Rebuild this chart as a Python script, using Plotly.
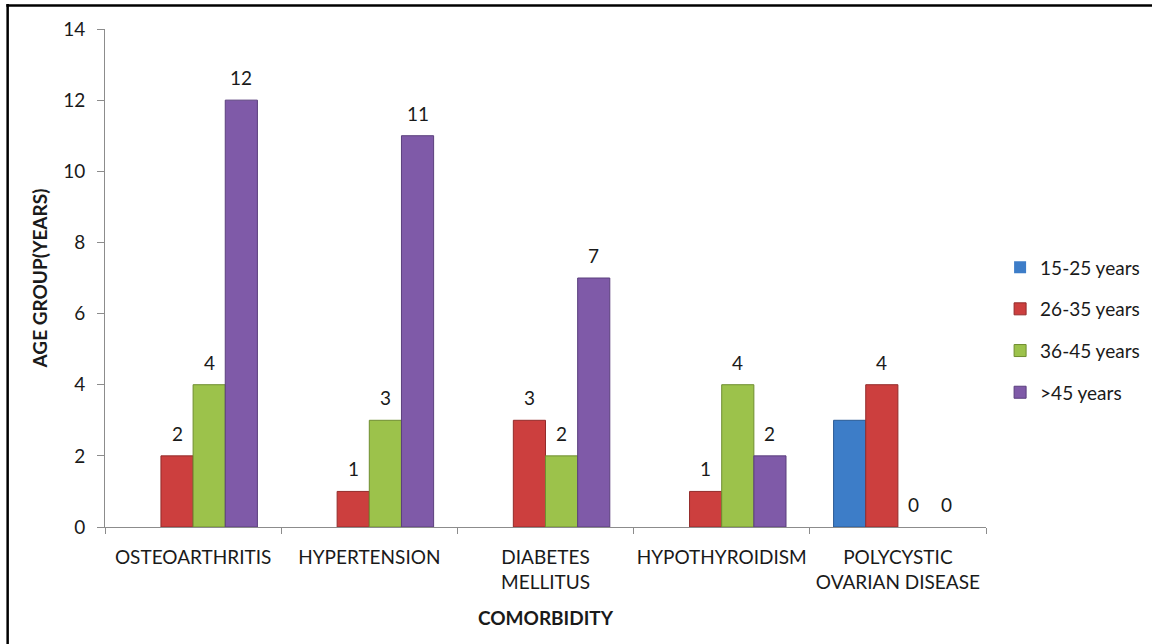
import plotly.graph_objects as go

# Comorbidity counts by age group
categories = ["OSTEOARTHRITIS", "HYPERTENSION", "DIABETES<br>MELLITUS",
              "HYPOTHYROIDISM", "POLYCYSTIC<br>OVARIAN DISEASE"]
age_groups = ["15-25 years", "26-35 years", "36-45 years", ">45 years"]
vals_15_25 = [None, None, None, None, 3]
vals_26_35 = [2, 1, 3, 1, 4]
vals_36_45 = [4, 3, 2, 4, 0]
vals_over_45 = [12, 11, 7, 2, 0]
y_ticks = [0, 2, 4, 6, 8, 10, 12, 14]

series = [vals_15_25, vals_26_35, vals_36_45, vals_over_45]
fill_colors = ["#3D7DC8", "#CC3F3E", "#9CC24B", "#7F5AA8"]
edge_colors = ["#2A5A94", "#932B2A", "#6F8E30", "#5A3F7D"]
show_labels = [False, True, True, True]

FONT = "Lato, 'Open Sans', sans-serif"
TEXT = "#1a1a1a"
FS = 19

fig = go.Figure()
for name, vals, fc, ec in zip(age_groups, series, fill_colors, edge_colors):
    # no outline on empty bars so nothing is drawn along the baseline
    widths = [1 if v else 0 for v in vals]
    fig.add_trace(go.Bar(
        x=categories, y=vals, name=name, legendgroup=name,
        marker=dict(color=fc, line=dict(color=ec, width=widths)),
    ))

# value labels above each bar (the 15-25 series is unlabelled)
bar_px = 881 / 5 * (1 - 0.27) / 4
for i, (vals, show) in enumerate(zip(series, show_labels)):
    if not show:
        continue
    for cat, v in zip(categories, vals):
        if v is None:
            continue
        fig.add_annotation(
            x=cat, y=v, text=str(v), showarrow=False,
            xshift=(i - 1.5) * bar_px, yanchor="bottom", yshift=9,
            font=dict(family=FONT, size=FS, color=TEXT),
        )

# outer frame of the chart
fig.add_shape(type="line", xref="paper", yref="paper",
              x0=-0.112, x1=1.25, y0=1.0472, y1=1.0472,
              line=dict(color="black", width=2.5))
fig.add_shape(type="line", xref="paper", yref="paper",
              x0=-0.1105, x1=-0.1105, y0=1.05, y1=-0.3,
              line=dict(color="black", width=2.5))

fig.update_layout(
    width=1152, height=644,
    margin=dict(l=105, r=166, t=29, b=117, autoexpand=False),
    paper_bgcolor="white", plot_bgcolor="white",
    barmode="group", bargap=0.27, bargroupgap=0,
    font=dict(family=FONT, size=FS, color=TEXT),
    showlegend=True,
    legend=dict(
        x=1.016, xanchor="left", y=0.396, yanchor="middle",
        font=dict(family=FONT, size=FS, color=TEXT),
        tracegroupgap=14, traceorder="grouped",
        bgcolor="rgba(0,0,0,0)",
    ),
    xaxis=dict(
        showline=True, linecolor="#8c8c8c", linewidth=1,
        ticks="outside", ticklen=6, tickcolor="#8c8c8c",
        tickson="boundaries", showgrid=False,
        tickangle=0, automargin=False,
        tickfont=dict(family=FONT, size=FS, color=TEXT),
        ticklabelstandoff=13,
        title=dict(text="<b>COMORBIDITY</b>", standoff=20,
                   font=dict(family=FONT, size=FS, color=TEXT)),
    ),
    yaxis=dict(
        range=[0, 14], tickvals=y_ticks,
        showline=True, linecolor="#8c8c8c", linewidth=1,
        ticks="outside", ticklen=7, tickcolor="#8c8c8c",
        showgrid=False, zeroline=False, automargin=False,
        tickfont=dict(family=FONT, size=FS, color=TEXT),
        ticklabelstandoff=8,
        title=dict(text="<b>AGE GROUP(YEARS)</b>", standoff=10,
                   font=dict(family=FONT, size=FS, color=TEXT)),
    ),
)

fig.write_html("out.html")
